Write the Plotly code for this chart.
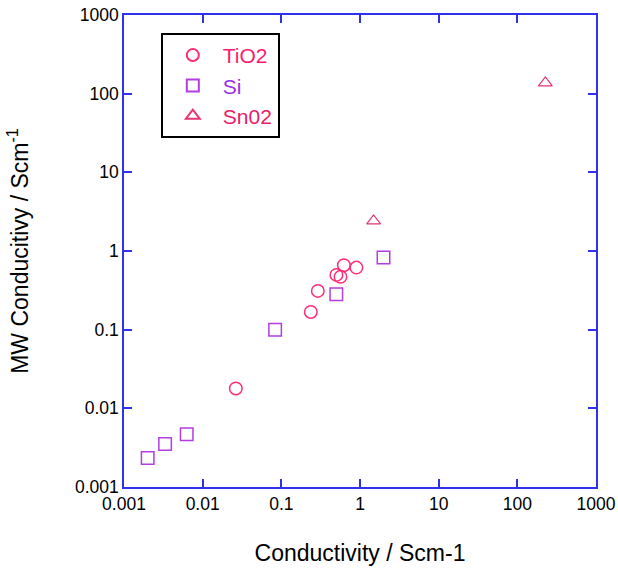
import plotly.graph_objects as go

tio2_x = [0.0264, 0.237, 0.291, 0.502, 0.565, 0.624, 0.90]
tio2_y = [0.0179, 0.168, 0.311, 0.497, 0.469, 0.66, 0.615]
si_x = [0.0020, 0.00333, 0.00627, 0.0834, 0.50, 1.99]
si_y = [0.00233, 0.00351, 0.0047, 0.100, 0.282, 0.824]
sno2_x = [1.49, 227]
sno2_y = [2.41, 137]

tick_vals = [0.001, 0.01, 0.1, 1, 10, 100, 1000]
tick_text = ["0.001", "0.01", "0.1", "1", "10", "100", "1000"]

c_tio2 = "#ff2d78"
c_si = "#b23de0"
c_sno2 = "#e8336f"

FONT = "Liberation Sans, Arial"

fig = go.Figure()
fig.add_trace(go.Scatter(x=tio2_x, y=tio2_y, mode="markers",
                         name='<span style="color:#ff1a6e">TiO2</span>',
                         marker=dict(symbol="circle-open", size=12.5, color=c_tio2, line=dict(width=1.5))))
fig.add_trace(go.Scatter(x=si_x, y=si_y, mode="markers",
                         name='<span style="color:#9b30e8">Si</span>',
                         marker=dict(symbol="square-open", size=12.5, color=c_si, line=dict(width=1.5))))
fig.add_trace(go.Scatter(x=sno2_x, y=sno2_y, mode="markers",
                         name='<span style="color:#e8206a">Sn02</span>',
                         marker=dict(symbol="triangle-up-open", size=12, color=c_sno2, line=dict(width=1.2))))

axis_color = "#3030f0"
common = dict(type="log", showgrid=False, zeroline=False, showline=True, linecolor=axis_color,
              linewidth=1.5, mirror="ticks", ticks="inside", ticklen=8, tickcolor=axis_color,
              tickwidth=1.5, tickvals=tick_vals, ticktext=tick_text, automargin=False,
              ticklabeloverflow="allow",
              tickfont=dict(family=FONT, size=17.5, color="black"))

fig.update_xaxes(range=[-3, 3], title=dict(text="Conductivity / Scm-1",
                 font=dict(family=FONT, size=23, color="black"), standoff=32), **common)
fig.update_yaxes(range=[-3, 3], title=dict(text="MW Conducitivy / Scm<sup>-1</sup>",
                 font=dict(family=FONT, size=23, color="black"), standoff=40), **common)

fig.update_layout(
    width=618, height=572,
    margin=dict(l=124, r=22, t=15, b=85),
    paper_bgcolor="white", plot_bgcolor="white",
    font=dict(family=FONT, color="black"),
    legend=dict(x=0.078, y=0.962, xanchor="left", yanchor="top",
                bgcolor="white", bordercolor="black", borderwidth=2,
                font=dict(family=FONT, size=21),
                itemsizing="constant", itemwidth=50),
    showlegend=True,
)

fig.write_html("out.html", config={"displayModeBar": False},
               post_script="document.body.style.margin='0';")
